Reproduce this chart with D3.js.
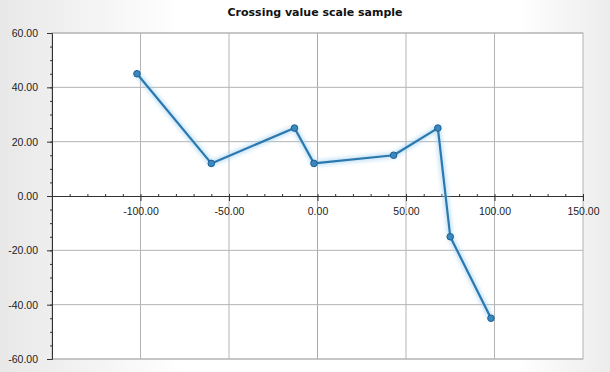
<!DOCTYPE html>
<meta charset="utf-8">
<style>
body { margin: 0; background: #fff; }
svg { display: block; font-family: "DejaVu Sans", Verdana, sans-serif; }
.tick text { fill: #222; font-size: 10.5px; }
.axis path, .axis line { stroke: #333; }
</style>
<body>
<script src="https://d3js.org/d3.v7.min.js"></script>
<script>
// data
var xValues = [-102, -60, -13, -2, 43, 68, 75, 98];
var yValues = [45, 12, 25, 12, 15, 25, -15, -45];
var xTicks = [-100, -50, 0, 50, 100, 150];
var yTicks = [-60, -40, -20, 0, 20, 40, 60];
var title = "Crossing value scale sample";

var W = 610, H = 372;
var margin = {top: 33, right: 27, bottom: 13, left: 52},
    width = W - margin.left - margin.right,
    height = H - margin.top - margin.bottom;

// plain hyphen for negatives, like the original
var fmt = d3.formatLocale({decimal: ".", thousands: ",", grouping: [3],
    currency: ["", ""], minus: "-"}).format(".2f");

var svg = d3.select("body").append("svg")
    .attr("width", W)
    .attr("height", H);

var defs = svg.append("defs");
var bg = defs.append("linearGradient").attr("id", "bg")
    .attr("x1", 0).attr("x2", 1).attr("y1", 0).attr("y2", 0);
bg.append("stop").attr("offset", "0%").attr("stop-color", "#e8e8e8");
bg.append("stop").attr("offset", "30%").attr("stop-color", "#ffffff");
bg.append("stop").attr("offset", "85%").attr("stop-color", "#ffffff");
bg.append("stop").attr("offset", "100%").attr("stop-color", "#ececec");

var glow = defs.append("filter").attr("id", "glow")
    .attr("x", "-20%").attr("y", "-20%").attr("width", "140%").attr("height", "140%");
glow.append("feGaussianBlur").attr("stdDeviation", 2);

svg.append("rect").attr("width", W).attr("height", H).attr("fill", "url(#bg)");

svg.append("text")
    .attr("x", W / 2 + 10)
    .attr("y", 16)
    .attr("text-anchor", "middle")
    .style("font-size", "11px")
    .style("font-weight", "bold")
    .style("fill", "#111")
    .text(title);

var g = svg.append("g")
    .attr("transform", "translate(" + margin.left + "," + margin.top + ")");

var x = d3.scaleLinear().domain([-150, 150]).range([0, width]);
var y = d3.scaleLinear().domain([-60, 60]).range([height, 0]);

g.append("rect")
    .attr("width", width).attr("height", height)
    .attr("fill", "#fff")
    .attr("stroke", "#b4b4b4");

// grid
g.selectAll(".vgrid")
    .data(xTicks.filter(function(d) { return d !== 150; }))
  .enter().append("line")
    .attr("x1", function(d) { return x(d); })
    .attr("x2", function(d) { return x(d); })
    .attr("y1", 0).attr("y2", height)
    .attr("stroke", function(d) { return d === 0 ? "#c89aa8" : "#b4b4b4"; });

g.selectAll(".hgrid")
    .data(yTicks.filter(function(d) { return d !== 0; }))
  .enter().append("line")
    .attr("x1", 0).attr("x2", width)
    .attr("y1", function(d) { return y(d); })
    .attr("y2", function(d) { return y(d); })
    .attr("stroke", "#b4b4b4");

// y axis with minor ticks
var yMinor = d3.range(-60, 61, 5);
g.append("g")
    .attr("class", "axis")
    .call(d3.axisLeft(y).tickValues(yMinor).tickSize(2).tickFormat(""));
g.append("g")
    .attr("class", "axis")
    .call(d3.axisLeft(y).tickValues(yTicks).tickSize(5).tickPadding(9)
      .tickFormat(fmt))
    .select(".domain").remove();

// x axis crossing at y = 0
var xMinor = d3.range(-150, 151, 10);
var xa = g.append("g")
    .attr("class", "axis")
    .attr("transform", "translate(0," + y(0) + ")");
xa.append("g")
    .call(d3.axisTop(x).tickValues(xMinor).tickSize(2).tickFormat(""));
xa.append("g")
    .call(d3.axisBottom(x).tickValues(xTicks).tickSize(5).tickPadding(7)
      .tickFormat(fmt))
    .select(".domain").remove();

// series
var pts = xValues.map(function(d, i) { return [d, yValues[i]]; });
var line = d3.line()
    .x(function(d) { return x(d[0]); })
    .y(function(d) { return y(d[1]); });

g.append("path")
    .datum(pts)
    .attr("d", line)
    .attr("fill", "none")
    .attr("stroke", "#9fd0f0")
    .attr("stroke-width", 5)
    .attr("opacity", 0.7)
    .attr("filter", "url(#glow)");

g.append("path")
    .datum(pts)
    .attr("d", line)
    .attr("fill", "none")
    .attr("stroke", "#2b78ae")
    .attr("stroke-width", 2.2)
    .attr("stroke-linejoin", "round");

g.selectAll(".dot")
    .data(pts)
  .enter().append("circle")
    .attr("cx", function(d) { return x(d[0]); })
    .attr("cy", function(d) { return y(d[1]); })
    .attr("r", 3.3)
    .attr("fill", "#3a88c0")
    .attr("stroke", "#1e5f8f")
    .attr("stroke-width", 1);
</script>
</body>
